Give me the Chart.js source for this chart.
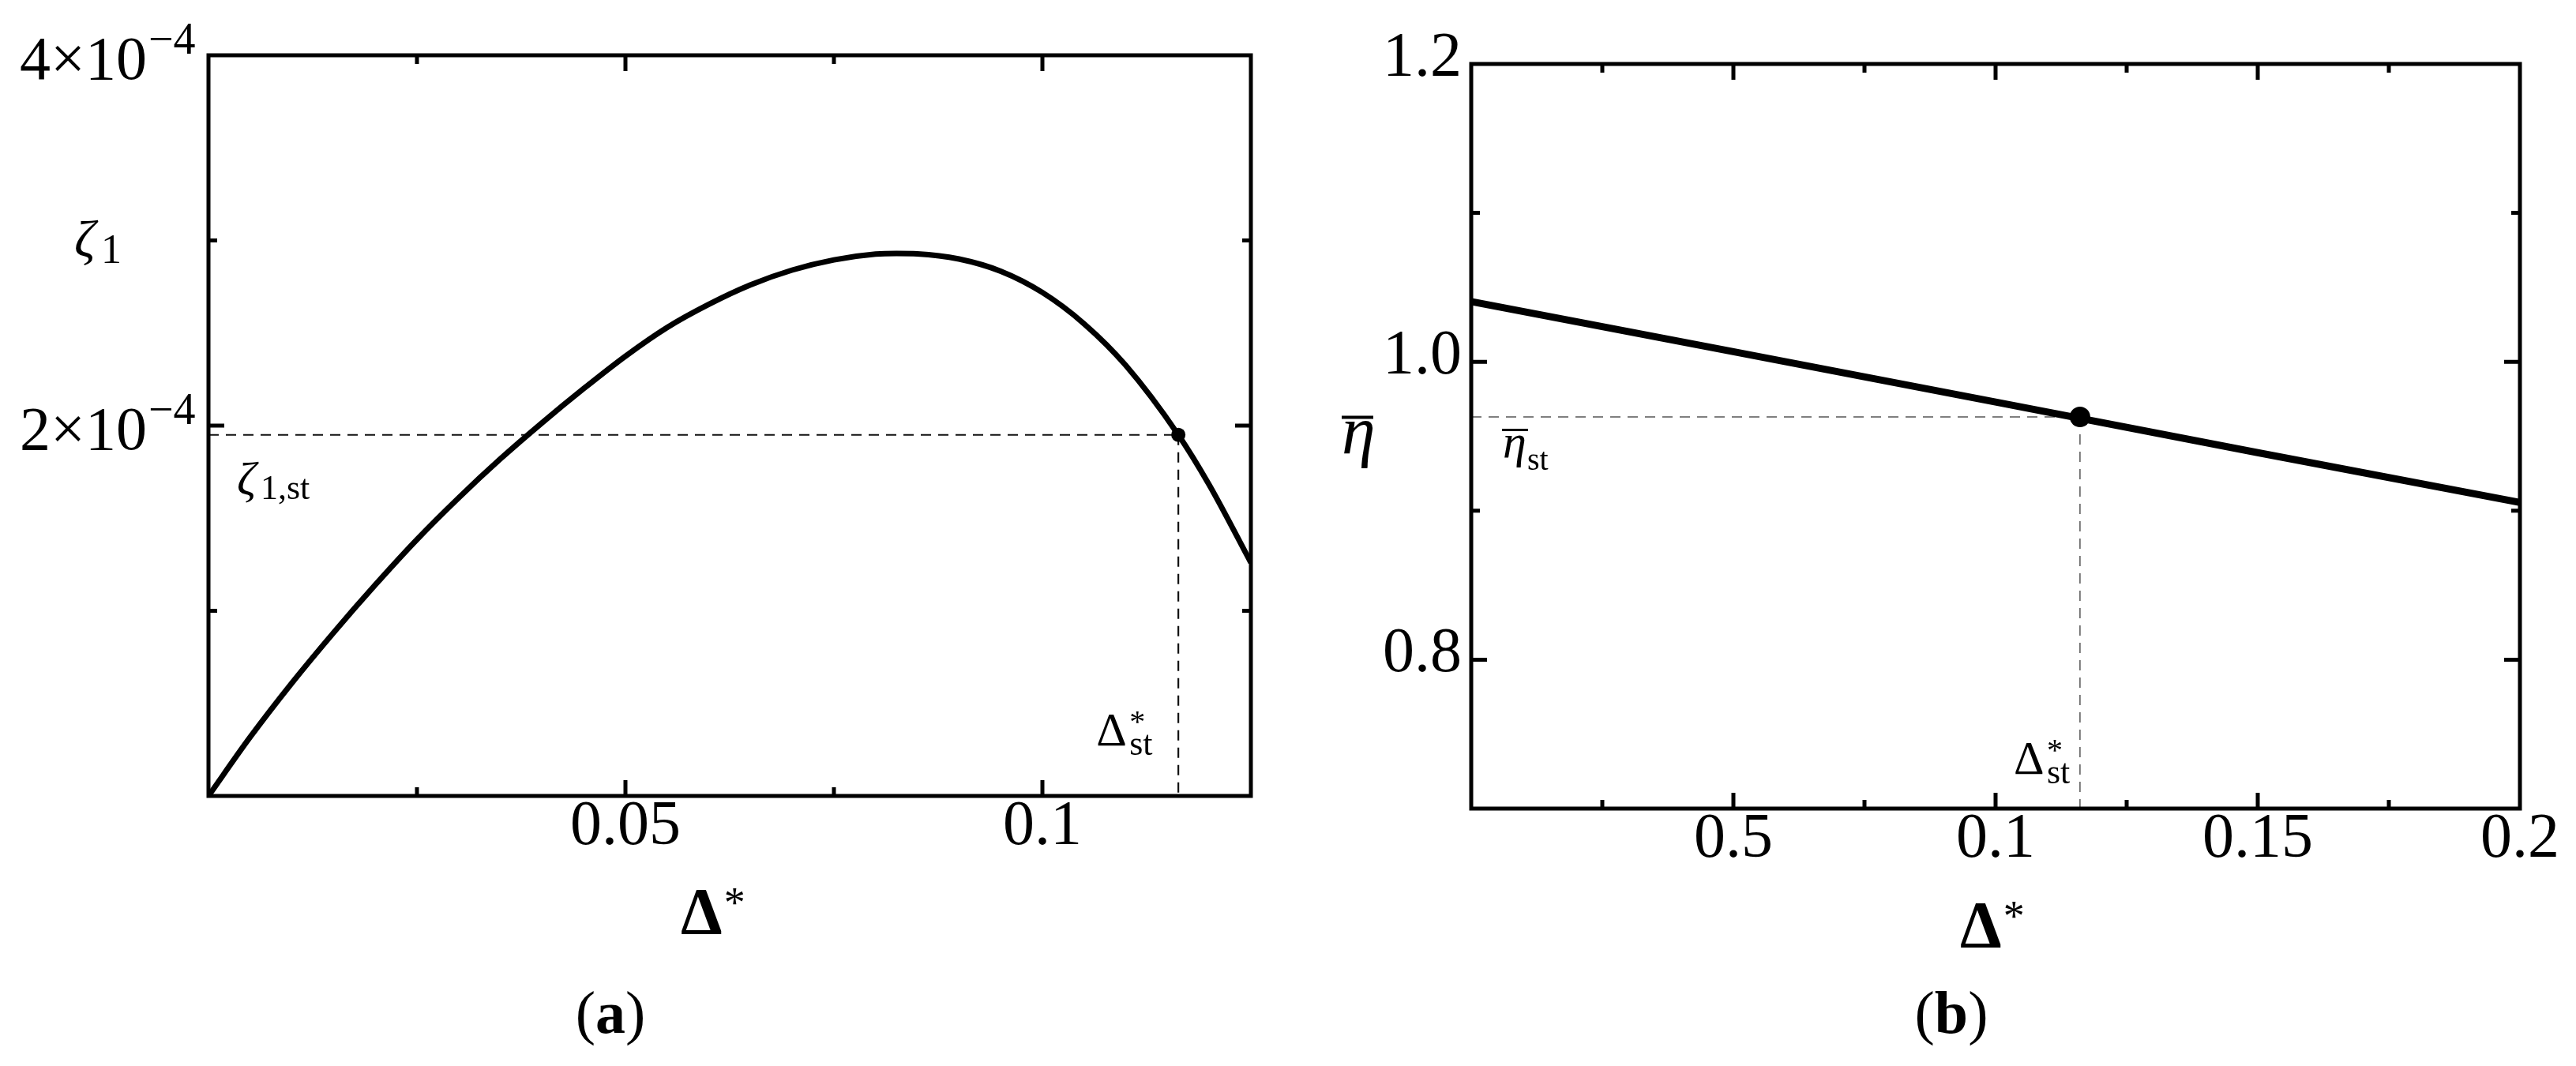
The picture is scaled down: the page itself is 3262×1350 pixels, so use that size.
<!DOCTYPE html>
<html>
<head>
<meta charset="utf-8">
<title>zeta_1 and eta-bar against Delta*</title>
<script src="https://cdn.jsdelivr.net/npm/chart.js@4.4.1/dist/chart.umd.min.js"></script>
<style>
  html, body { margin: 0; padding: 0; background: #ffffff; }
  #fig { position: relative; width: 3262px; height: 1350px; }
  #fig canvas { position: absolute; top: 0; }
  #chartA { left: 0; }
  #chartB { left: 1650px; }
</style>
</head>
<body>
<div id="fig">
  <canvas id="chartA" width="1650" height="1350"></canvas>
  <canvas id="chartB" width="1612" height="1350"></canvas>
</div>
<script>
// panel (a): zeta_1 (in units of 1e-4) against Delta*
const deltaA = [0, 0.005, 0.01, 0.015, 0.02, 0.025, 0.03, 0.035, 0.04, 0.045, 0.05, 0.055, 0.06, 0.065,
                0.07, 0.075, 0.08, 0.0825, 0.085, 0.09, 0.095, 0.1, 0.105, 0.11, 0.1163, 0.12, 0.125];
const zetaA = [0, 0.318, 0.61, 0.882, 1.14, 1.385, 1.61, 1.82, 2.015, 2.2, 2.375, 2.53, 2.655, 2.76,
               2.84, 2.895, 2.926, 2.93, 2.928, 2.90, 2.834, 2.719, 2.55, 2.325, 1.95, 1.68, 1.26];
const deltaStA = 0.1163;
const zetaStA = 1.95;
const xTickValsA = [0.05, 0.1];
const xTickTextA = ['0.05', '0.1'];
const yTickValsA = [2, 4];
const yTickTextA = ['2×10', '4×10'];
const yTickExpA = '−4';

// panel (b): eta-bar against Delta*
const deltaB = [0, 0.05, 0.1, 0.15, 0.2];
const etaB = [1.0405, 1.0068, 0.973, 0.939, 0.9055];
const deltaStB = 0.1161;
const etaStB = 0.963;
const xTickValsB = [0.05, 0.1, 0.15, 0.2];
const xTickTextB = ['0.5', '0.1', '0.15', '0.2'];
const yTickValsB = [0.8, 1.0, 1.2];
const yTickTextB = ['0.8', '1.0', '1.2'];

const SERIF = '"Liberation Serif", "Times New Roman", serif';
Chart.defaults.font.family = SERIF;
Chart.defaults.color = '#000';

function pts(xs, ys) { return xs.map((x, i) => ({ x: x, y: ys[i] })); }
function near(list, v) { return list.findIndex(t => Math.abs(t - v) < 1e-9); }
function tickText(vals, texts) {
  return function (value) {
    const i = near(vals, value);
    return i < 0 ? '' : texts[i];
  };
}
function put(ctx, s, x, y, font, align) {
  ctx.font = font;
  ctx.textAlign = align || 'left';
  ctx.textBaseline = 'alphabetic';
  ctx.fillText(s, x, y);
}
function caption(ctx, letter, cx, base) {
  const reg = '76px ' + SERIF, bold = 'bold 76px ' + SERIF;
  ctx.font = reg;
  const wp = ctx.measureText('(').width, wq = ctx.measureText(')').width;
  ctx.font = bold;
  const wl = ctx.measureText(letter).width;
  let x = cx - (wp + wl + wq) / 2;
  put(ctx, '(', x, base, reg); x += wp;
  put(ctx, letter, x, base, bold); x += wl;
  put(ctx, ')', x, base, reg);
}
// axis title Delta* with a raised asterisk
function deltaTitle(ctx, left, base) {
  const f = 'bold 84px ' + SERIF;
  put(ctx, 'Δ', left, base, f);
  ctx.font = f;
  const w = ctx.measureText('Δ').width;
  put(ctx, '*', left + w + 2, base - 22, '54px ' + SERIF);
}

// full frame plus inward ticks on all four sides
const frameTicks = {
  id: 'frameTicks',
  afterDatasetsDraw(chart, args, opts) {
    const { ctx, chartArea: a } = chart;
    const sx = chart.scales.x, sy = chart.scales.y;
    ctx.save();
    ctx.strokeStyle = '#000';
    ctx.lineWidth = 5;
    ctx.beginPath();
    sx.ticks.forEach(t => {
      const px = sx.getPixelForValue(t.value);
      if (px < a.left + 3 || px > a.right - 3) return;
      const len = near(opts.xMajor, t.value) >= 0 ? 20 : 11;
      ctx.moveTo(px, a.bottom); ctx.lineTo(px, a.bottom - len);
      ctx.moveTo(px, a.top); ctx.lineTo(px, a.top + len);
    });
    sy.ticks.forEach(t => {
      const py = sy.getPixelForValue(t.value);
      if (py < a.top + 3 || py > a.bottom - 3) return;
      const len = near(opts.yMajor, t.value) >= 0 ? 20 : 11;
      ctx.moveTo(a.left, py); ctx.lineTo(a.left + len, py);
      ctx.moveTo(a.right, py); ctx.lineTo(a.right - len, py);
    });
    ctx.stroke();
    ctx.strokeRect(a.left, a.top, a.right - a.left, a.bottom - a.top);
    ctx.restore();
  }
};

const labelsA = {
  id: 'labelsA',
  afterDraw(chart) {
    const { ctx, chartArea: a } = chart;
    const sx = chart.scales.x, sy = chart.scales.y;
    ctx.save();
    ctx.fillStyle = '#000';
    yTickValsA.forEach((v, i) => {
      const py = sy.getPixelForValue(v);
      put(ctx, yTickTextA[i], 186, py + 30, '78px ' + SERIF, 'right');
      put(ctx, yTickExpA, 188, py - 2, '56px ' + SERIF);
    });
    // axis label near the 3e-4 tick
    const p3 = sy.getPixelForValue(3);
    put(ctx, 'ζ', 94, p3 + 20, 'italic 66px ' + SERIF);
    put(ctx, '1', 128, p3 + 28, '52px ' + SERIF);
    // zeta_1,st under the dashed line
    const yst = sy.getPixelForValue(zetaStA);
    put(ctx, 'ζ', 300, yst + 75, 'italic 60px ' + SERIF);
    put(ctx, '1,st', 330, yst + 81, '44px ' + SERIF);
    // Delta*_st left of the vertical dashed line
    const xst = sx.getPixelForValue(deltaStA);
    put(ctx, 'Δ', xst - 104, a.bottom - 64, '60px ' + SERIF);
    put(ctx, '*', xst - 62, a.bottom - 81, '40px ' + SERIF);
    put(ctx, 'st', xst - 62, a.bottom - 52, '44px ' + SERIF);
    deltaTitle(ctx, 862, 1183);
    caption(ctx, 'a', 773, 1308);
    ctx.restore();
  }
};

const labelsB = {
  id: 'labelsB',
  afterDraw(chart) {
    const { ctx, chartArea: a } = chart;
    const sx = chart.scales.x, sy = chart.scales.y;
    ctx.save();
    ctx.fillStyle = '#000';
    // axis label eta-bar, centred on the frame height
    const pm = (a.top + a.bottom) / 2;
    put(ctx, 'η', 49, pm + 21, 'italic 86px ' + SERIF);
    ctx.fillRect(49, pm - 26, 40, 4);
    // eta-bar_st under the dashed line
    const yst = sy.getPixelForValue(etaStB);
    put(ctx, 'η', 253, yst + 51, 'italic 60px ' + SERIF);
    ctx.fillRect(252, yst + 15, 33, 3);
    put(ctx, 'st', 284, yst + 67, '40px ' + SERIF);
    // Delta*_st left of the vertical dashed line
    const xst = sx.getPixelForValue(deltaStB);
    put(ctx, 'Δ', xst - 84, a.bottom - 44, '60px ' + SERIF);
    put(ctx, '*', xst - 42, a.bottom - 61, '40px ' + SERIF);
    put(ctx, 'st', xst - 42, a.bottom - 32, '44px ' + SERIF);
    deltaTitle(ctx, 2482 - 1650, 1200);
    caption(ctx, 'b', 821, 1308);
    ctx.restore();
  }
};

function dashed(data, color, width) {
  return { data: data, borderColor: color, borderWidth: width, borderDash: [13, 9], pointRadius: 0, fill: false };
}

new Chart(document.getElementById('chartA'), {
  type: 'line',
  data: {
    datasets: [
      { data: [{ x: deltaStA, y: zetaStA }], showLine: false, pointRadius: 9, pointBackgroundColor: '#000', pointBorderWidth: 0 },
      { data: pts(deltaA, zetaA), borderColor: '#000', borderWidth: 7, pointRadius: 0, cubicInterpolationMode: 'monotone', fill: false },
      dashed([{ x: 0, y: zetaStA }, { x: deltaStA, y: zetaStA }], '#111', 2.2),
      dashed([{ x: deltaStA, y: zetaStA }, { x: deltaStA, y: 0 }], '#111', 2.2)
    ]
  },
  options: {
    responsive: false, animation: false, events: [],
    layout: { padding: { left: 0, top: 70, right: 66, bottom: 0 } },
    plugins: {
      legend: { display: false }, tooltip: { enabled: false },
      frameTicks: { xMajor: xTickValsA, yMajor: yTickValsA }
    },
    scales: {
      x: {
        type: 'linear', min: 0, max: 0.125,
        afterFit(s) { s.height = 342; },
        grid: { display: false, drawTicks: false }, border: { display: false },
        ticks: { stepSize: 0.025, autoSkip: false, maxRotation: 0, padding: 0,
                 font: { size: 80, lineHeight: 1 }, callback: tickText(xTickValsA, xTickTextA) }
      },
      y: {
        type: 'linear', min: 0, max: 4,
        afterFit(s) { s.width = 264; },
        grid: { display: false, drawTicks: false }, border: { display: false },
        ticks: { stepSize: 1, display: false }
      }
    }
  },
  plugins: [frameTicks, labelsA]
});

new Chart(document.getElementById('chartB'), {
  type: 'line',
  data: {
    datasets: [
      { data: [{ x: deltaStB, y: etaStB }], showLine: false, pointRadius: 13, pointBackgroundColor: '#000', pointBorderWidth: 0 },
      { data: pts(deltaB, etaB), borderColor: '#000', borderWidth: 9, pointRadius: 0, fill: false },
      dashed([{ x: 0, y: etaStB }, { x: deltaStB, y: etaStB }], '#555', 1.5),
      dashed([{ x: deltaStB, y: etaStB }, { x: deltaStB, y: 0.7 }], '#555', 1.5)
    ]
  },
  options: {
    responsive: false, animation: false, events: [],
    layout: { padding: { left: 0, top: 81, right: 71, bottom: 0 } },
    plugins: {
      legend: { display: false }, tooltip: { enabled: false },
      frameTicks: { xMajor: xTickValsB, yMajor: yTickValsB }
    },
    scales: {
      x: {
        type: 'linear', min: 0, max: 0.2,
        afterFit(s) { s.height = 326; },
        grid: { display: false, drawTicks: false }, border: { display: false },
        ticks: { stepSize: 0.025, autoSkip: false, maxRotation: 0, padding: 0,
                 font: { size: 80, lineHeight: 1 }, callback: tickText(xTickValsB, xTickTextB) }
      },
      y: {
        type: 'linear', min: 0.7, max: 1.2,
        afterFit(s) { s.width = 213; },
        grid: { display: false, drawTicks: false }, border: { display: false },
        ticks: { stepSize: 0.1, autoSkip: false, padding: 12, labelOffset: -6,
                 font: { size: 80, lineHeight: 1 }, callback: tickText(yTickValsB, yTickTextB) }
      }
    }
  },
  plugins: [frameTicks, labelsB]
});
</script>
</body>
</html>
